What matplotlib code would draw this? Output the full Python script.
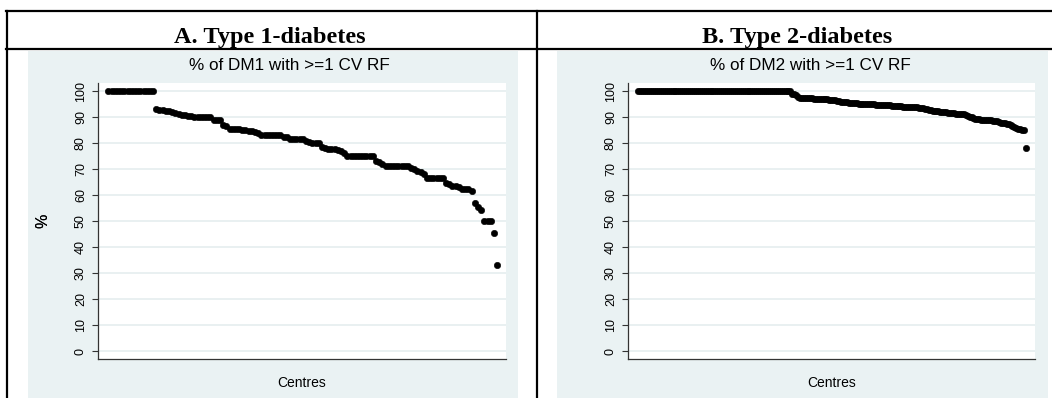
import matplotlib
matplotlib.use("Agg")
import matplotlib.pyplot as plt
from matplotlib.patches import Rectangle
from matplotlib.lines import Line2D

# share of patients with at least one CV risk factor, one value per centre,
# sorted from highest to lowest
dm1_pct = ([100.0] * 15 +
           [93.3, 92.9, 92.9, 92.3, 92.3, 92.0, 91.7, 91.3, 90.9, 90.9,
            90.5, 90.5, 90.0, 90.0, 90.0, 90.0, 90.0, 90.0, 88.9, 88.9,
            88.9, 87.0, 86.7, 85.7, 85.7, 85.7, 85.7, 85.2, 85.0, 84.6,
            84.6, 84.2, 84.0, 83.3, 83.3, 83.3, 83.3, 83.3, 83.3, 83.3,
            82.6, 82.4, 81.8, 81.8, 81.8, 81.8, 81.8, 80.8, 80.6, 80.0,
            80.0, 80.0, 78.6, 78.3, 77.8, 77.8, 77.8, 77.3, 76.9, 76.2,
            75.0, 75.0, 75.0, 75.0, 75.0, 75.0, 75.0, 75.0, 75.0, 73.3,
            72.7, 72.2, 71.4, 71.4, 71.4, 71.4, 71.4, 71.4, 71.4, 71.4,
            70.6, 70.0, 69.2, 68.8, 68.2, 66.7, 66.7, 66.7, 66.7, 66.7,
            66.7, 64.7, 64.3, 63.6, 63.6, 63.2, 62.5, 62.5, 62.5, 61.5,
            57.1, 55.6, 54.5, 50.0, 50.0, 50.0, 45.5, 33.3])

dm2_pct = ([100.0] * 79 +
           [99.0, 98.9, 98.5, 98.0, 97.6,
            97.6, 97.5, 97.5, 97.4, 97.3, 97.3, 97.2,
            97.1, 97.0, 97.0, 97.0, 97.0, 96.9, 96.9, 96.8, 96.8, 96.7,
            96.6, 96.4, 96.2, 96.0, 95.9, 95.9, 95.8, 95.7, 95.6, 95.5,
            95.5, 95.4, 95.3, 95.2, 95.2, 95.1, 95.1, 95.0, 95.0, 95.0,
            95.0, 94.9, 94.9, 94.8, 94.8, 94.7, 94.7, 94.6, 94.6, 94.5,
            94.4, 94.4, 94.3, 94.3, 94.2, 94.1, 94.1, 94.0, 94.0, 93.9,
            93.9, 93.8, 93.8, 93.7, 93.6, 93.5, 93.3, 93.1, 92.9, 92.7,
            92.6, 92.5, 92.4, 92.3, 92.2, 92.1, 92.0, 91.9, 91.8, 91.7,
            91.6, 91.5, 91.4, 91.3, 91.2, 91.2, 91.1, 90.9, 90.6, 90.3,
            90.0, 89.7, 89.4, 89.3, 89.2, 89.1, 89.1, 89.0, 89.0, 88.9,
            88.8, 88.6, 88.5, 88.4, 88.2, 88.0, 87.9, 87.7, 87.5, 87.4,
            87.0, 86.5, 86.2, 86.0, 85.7, 85.4, 85.2, 85.0, 78.3])

panel_headers = ["A. Type 1-diabetes", "B. Type 2-diabetes"]
panel_titles = ["% of DM1 with >=1 CV RF", "% of DM2 with >=1 CV RF"]
y_ticks = [0, 10, 20, 30, 40, 50, 60, 70, 80, 90, 100]

W, H = 1052, 398
BG = "#EAF2F3"
GRID = "#E3ECEE"
SANS = "Liberation Sans"
SERIF = "Liberation Serif"


def fx(px):
    return px / W


def fy(py):
    return 1 - py / H


fig = plt.figure(figsize=(W / 100, H / 100), dpi=100)
fig.patch.set_facecolor("white")

# table frame around the two panels
for x0, y0, x1, y1 in [(6, 11, W, 11), (6, 48.5, W, 48.5),
                       (7, 11, 7, H), (536.5, 11, 536.5, H)]:
    fig.add_artist(Line2D([fx(x0), fx(x1)], [fy(y0), fy(y1)],
                          transform=fig.transFigure, color="black", lw=1.6))

# light graph region behind each plot
for bx0, bx1 in [(28, 518), (557, 1048)]:
    fig.add_artist(Rectangle((fx(bx0), 0), fx(bx1) - fx(bx0), fy(51),
                             transform=fig.transFigure, facecolor=BG,
                             edgecolor="none", zorder=0))

header_x = [270, 797]
axes_px = [(98, 506), (628, 1035)]
title_x = [289.5, 810]
top_px, bottom_px = 83, 359

for k, values in enumerate([dm1_pct, dm2_pct]):
    fig.text(fx(header_x[k]), fy(43), panel_headers[k], ha="center",
             va="baseline", family=SERIF, weight="bold", fontsize=17.5)

    left, right = axes_px[k]
    ax = fig.add_axes([fx(left), fy(bottom_px), fx(right) - fx(left),
                       (bottom_px - top_px) / H])
    ax.set_facecolor("white")

    centres = list(range(1, len(values) + 1))
    ax.plot(centres, values, "o", color="black", markersize=4.6,
            markeredgewidth=0.4, markeredgecolor="black", zorder=3)

    span = len(values) - 1
    ax.set_xlim(1 - 0.027 * span, len(values) + 0.023 * span)
    ax.set_ylim(-2.9, 103.2)

    ax.set_yticks(y_ticks)
    ax.set_yticklabels([str(t) for t in y_ticks], family=SANS, fontsize=9)
    plt.setp(ax.get_yticklabels(), rotation=90, va="center")
    ax.tick_params(axis="y", direction="out", length=4.5, width=0.8,
                   color="#333333", pad=3.5)
    ax.set_xticks([])
    ax.grid(axis="y", color=GRID, lw=1.1)
    ax.set_axisbelow(True)

    for side in ["top", "right"]:
        ax.spines[side].set_visible(False)
    for side in ["left", "bottom"]:
        ax.spines[side].set_color("#333333")
        ax.spines[side].set_linewidth(0.9)

    ax.set_ylabel("%", family=SANS, fontsize=11.5)
    ax.yaxis.set_label_coords((50 - left) / (right - left), 0.5)
    ax.set_xlabel("Centres", family=SANS, fontsize=10, va="center")
    ax.xaxis.set_label_coords(0.5, -(383 - bottom_px) / (bottom_px - top_px))

    ax.text((title_x[k] - left) / (right - left),
            1 + (top_px - 65.5) / (bottom_px - top_px), panel_titles[k],
            transform=ax.transAxes, ha="center", va="center",
            family=SANS, fontsize=12.3)

fig.savefig("out.png", dpi=100)
plt.close(fig)
